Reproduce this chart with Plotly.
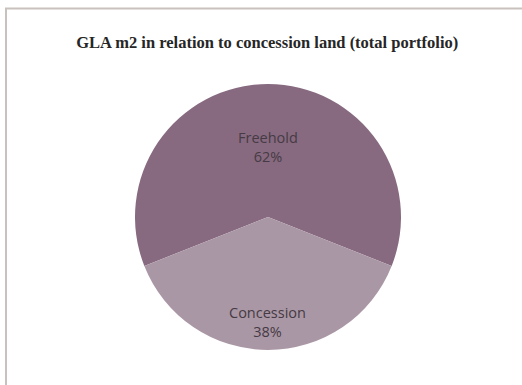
import math
import plotly.graph_objects as go

# Share of GLA (m2) by land tenure, total portfolio
labels = ["Freehold", "Concession"]
shares = [62, 38]
colors = ["#876a80", "#aa97a5"]

title_text = "GLA m2 in relation to concession land (total portfolio)"

W, H = 522, 385

# pie placement (paper fractions) and radial position of each slice label
dom_x = [135 / W, 401 / W]
dom_y = [1 - 350 / H, 1 - 84 / H]
label_radius = [0.53, 0.79]

total = sum(shares)
start = -shares[0] / total * 180  # centre the first slice on 12 o'clock

fig = go.Figure(
    go.Pie(
        labels=labels,
        values=shares,
        sort=False,
        direction="clockwise",
        rotation=start,
        marker=dict(colors=colors, line=dict(width=0)),
        textinfo="none",
        domain=dict(x=dom_x, y=dom_y),
        showlegend=False,
        hoverinfo="skip",
    )
)

# slice labels placed along each slice's bisector
cx = (dom_x[0] + dom_x[1]) / 2 * W
cy = (dom_y[0] + dom_y[1]) / 2 * H
r = min(dom_x[1] - dom_x[0], (dom_y[1] - dom_y[0]) * H / W) * W / 2
annotations = []
acc = 0.0
for lab, val, frac in zip(labels, shares, label_radius):
    mid = start + (acc + val / 2) / total * 360
    acc += val
    ang = math.radians(mid)
    px = cx + frac * r * math.sin(ang)
    py = cy + frac * r * math.cos(ang)
    annotations.append(
        dict(
            x=px / W,
            y=py / H,
            xref="paper",
            yref="paper",
            text=f"{lab}<br>{round(val / total * 100)}%",
            showarrow=False,
            xanchor="center",
            yanchor="middle",
            font=dict(family="Open Sans, sans-serif", size=14.5, color="#463a44"),
        )
    )

fig.update_layout(
    width=W,
    height=H,
    margin=dict(l=0, r=0, t=0, b=0),
    paper_bgcolor="white",
    plot_bgcolor="white",
    title=dict(
        text="<b>" + title_text + "</b>",
        x=0.512,
        xanchor="center",
        y=1 - 42 / H,
        yanchor="middle",
        font=dict(family="Liberation Serif, serif", size=16.5, color="#262626"),
    ),
    annotations=annotations,
    shapes=[
        dict(
            type="rect",
            xref="paper",
            yref="paper",
            x0=6 / W,
            x1=1.02,
            y0=-0.02,
            y1=1 - 8.5 / H,
            line=dict(color="#c9c1bd", width=2),
        )
    ],
)

fig.write_html("out.html")
